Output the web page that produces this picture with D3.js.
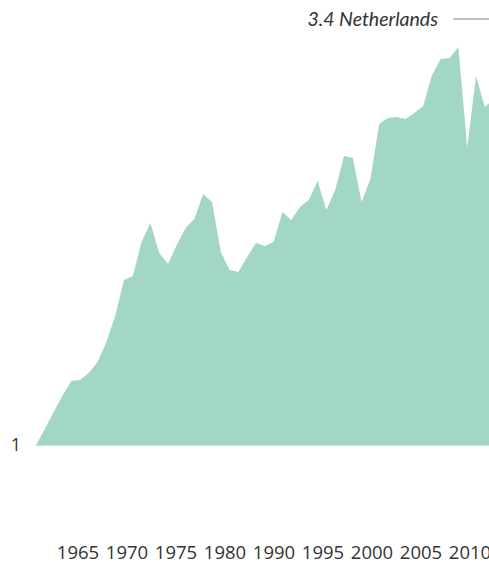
<!DOCTYPE html>
<html>
<head>
<meta charset="utf-8">
<script src="https://cdn.jsdelivr.net/npm/d3@7"></script>
<style>
  html, body { margin: 0; padding: 0; background: #fff; }
  svg { display: block; }
</style>
</head>
<body>
<svg id="chart" width="489" height="563"></svg>
<script>
const years = d3.range(1960, 2013);
const values = [
  1.000, 1.090, 1.186, 1.276, 1.361, 1.366, 1.406, 1.468, 1.580, 1.727,
  1.930, 1.952, 2.144, 2.251, 2.082, 2.020, 2.127, 2.223, 2.273, 2.414,
  2.369, 2.087, 1.986, 1.975, 2.059, 2.138, 2.121, 2.144, 2.313, 2.268,
  2.341, 2.380, 2.487, 2.324, 2.437, 2.628, 2.617, 2.369, 2.499, 2.808,
  2.842, 2.848, 2.837, 2.870, 2.910, 3.085, 3.175, 3.180, 3.242, 2.673,
  3.079, 2.904, 2.949
];
const tickLabels = ["1965", "1970", "1975", "1980", "1990", "1995", "2000", "2005", "2010"];
const yTicks = [1];
const seriesName = "Netherlands";
const lastValue = 3.4;

const data = years.map((y, i) => ({ year: y, value: values[i] }));

const svg = d3.select("#chart");
const x = d3.scaleLinear().domain([1960, 2012]).range([36, 493.6]);
const y = d3.scaleLinear().domain([1, 3.4]).range([445, 19]);
const xLab = d3.scalePoint().domain(tickLabels).range([78, 470]);

const area = d3.area()
  .x(d => x(d.year))
  .y0(y(1))
  .y1(d => y(d.value));

svg.append("path")
  .datum(data)
  .attr("d", area)
  .attr("fill", "#a2d6c6");

// baseline
svg.append("line")
  .attr("x1", 36).attr("x2", 489)
  .attr("y1", y(1) + 0.5).attr("y2", y(1) + 0.5)
  .attr("stroke", "#dcdcdc").attr("stroke-width", 1);

// y tick label
svg.selectAll("text.ytick")
  .data(yTicks)
  .enter().append("text")
  .attr("class", "ytick")
  .attr("x", 16).attr("y", d => y(d))
  .attr("dy", "0.35em")
  .attr("text-anchor", "middle")
  .attr("font-family", "'Open Sans', sans-serif")
  .attr("font-size", 18)
  .attr("fill", "#333")
  .text(d => d);

// x tick labels
svg.selectAll("text.xtick")
  .data(tickLabels)
  .enter().append("text")
  .attr("class", "xtick")
  .attr("x", d => xLab(d)).attr("y", 559)
  .attr("text-anchor", "middle")
  .attr("font-family", "'Open Sans', sans-serif")
  .attr("font-size", 18.5)
  .attr("fill", "#333")
  .text(d => d);

// series label
svg.append("text")
  .attr("x", 438).attr("y", y(lastValue))
  .attr("dy", "0.35em")
  .attr("text-anchor", "end")
  .attr("font-family", "Lato, sans-serif")
  .attr("font-style", "italic")
  .attr("font-size", 19.5)
  .attr("fill", "#333")
  .text(lastValue + " " + seriesName);

svg.append("line")
  .attr("x1", 453).attr("x2", 489)
  .attr("y1", y(lastValue)).attr("y2", y(lastValue))
  .attr("stroke", "#aaa").attr("stroke-width", 1.5);
</script>
</body>
</html>
